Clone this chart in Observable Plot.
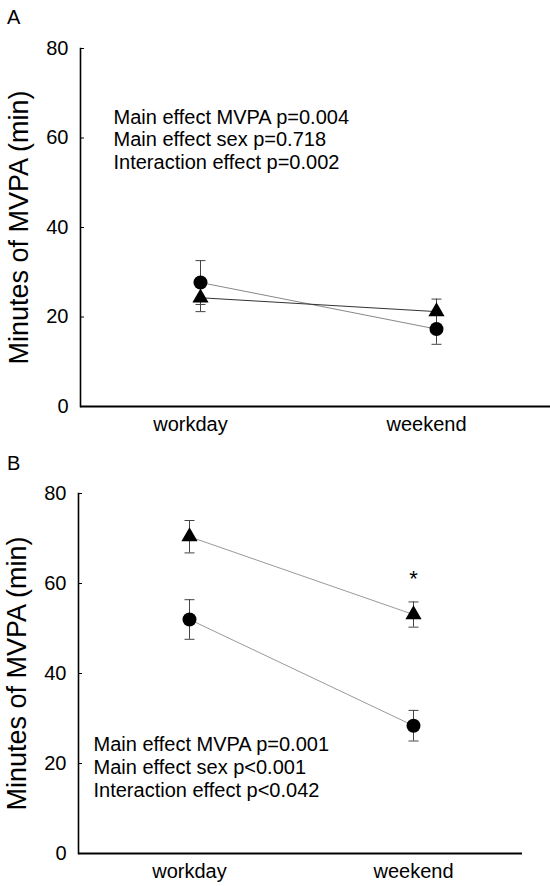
<!DOCTYPE html>
<html>
<head>
<meta charset="utf-8">
<script src="https://cdn.jsdelivr.net/npm/d3@7"></script>
<script src="https://cdn.jsdelivr.net/npm/@observablehq/plot@0.6"></script>
<style>
  html, body { margin: 0; padding: 0; background: #fff; }
  #wrap { position: relative; width: 550px; height: 886px; font-family: "Liberation Sans", Arial, sans-serif; }
  .panel-label { position: absolute; font-size: 20px; color: #000; line-height: 1; }
  svg g[aria-label="y-axis label"] text { font-size: 27px; }
  svg { display: block; }
</style>
</head>
<body>
<div id="wrap">
  <div id="plotA"></div>
  <div id="plotB"></div>
  <div class="panel-label" style="left:7px; top:7px;">A</div>
  <div class="panel-label" style="left:7px; top:453px;">B</div>
</div>
<script>
// ---- data ----
const conditions = ["workday", "weekend"];
const yTicks = [0, 20, 40, 60, 80];
const yLabel = "Minutes of MVPA (min)";

// Panel A (circle series / triangle series): mean and error
const panelA_circleMean = [27.7, 17.3];
const panelA_circleErr = [4.9, 3.4];
const panelA_triangleMean = [24.3, 21.2];
const panelA_triangleErr = [3.1, 2.8];
const statsA = ["Main effect MVPA p=0.004", "Main effect sex p=0.718", "Interaction effect p=0.002"];

// Panel B
const panelB_circleMean = [52.0, 28.4];
const panelB_circleErr = [4.4, 3.4];
const panelB_triangleMean = [70.4, 53.1];
const panelB_triangleErr = [3.6, 2.8];
const statsB = ["Main effect MVPA p=0.001", "Main effect sex p<0.001", "Interaction effect p<0.042"];
const starB = [{condition: "weekend", y: 61, label: "*"}];

// horizontal cap symbol for error bars
const capSymbol = {draw(context) { context.moveTo(-5, 0); context.lineTo(5, 0); }};

function rows(mean, err, symbol) {
  return conditions.map((c, i) => ({condition: c, mean: mean[i], lo: mean[i] - err[i], hi: mean[i] + err[i], symbol}));
}

function panel({circle, triangle, xRange, axisDx, height, marginTop, marginBottom, marginRight, marginLeft,
                stats, statsDx, statsDy, lineHeight, circleLine, triangleLine, extra}) {
  const all = [...circle, ...triangle];
  return Plot.plot({
    width: 550, height, marginLeft, marginRight, marginTop, marginBottom,
    x: {type: "point", domain: conditions, range: xRange, padding: 0},
    y: {domain: [0, 80]},
    style: {fontFamily: "'Liberation Sans', Arial, sans-serif", fontSize: "20px", color: "#000", background: "#fff"},
    marks: [
      Plot.axisY({ticks: yTicks, tickSize: -4, tickPadding: 16, fontSize: 20, label: yLabel,
                  labelAnchor: "center", labelArrow: "none", labelOffset: 72}),
      Plot.axisX({tickSize: 0, tickPadding: 10, fontSize: 20, label: null, dx: axisDx}),
      Plot.frame({anchor: "left", strokeWidth: 1.6, stroke: "#000"}),
      Plot.ruleY([0], {strokeWidth: 2, stroke: "#000"}),
      Plot.line(circle, {x: "condition", y: "mean", stroke: circleLine, strokeWidth: 1}),
      Plot.line(triangle, {x: "condition", y: "mean", stroke: triangleLine, strokeWidth: 1}),
      Plot.ruleX(all, {x: "condition", y1: "lo", y2: "hi", stroke: "#444", strokeWidth: 1}),
      Plot.dot(all, {x: "condition", y: "lo", symbol: capSymbol, fill: "none", stroke: "#444", strokeWidth: 1}),
      Plot.dot(all, {x: "condition", y: "hi", symbol: capSymbol, fill: "none", stroke: "#444", strokeWidth: 1}),
      Plot.dot(circle, {x: "condition", y: "mean", r: 7, symbol: "circle", fill: "#000", stroke: "none"}),
      Plot.dot(triangle, {x: "condition", y: "mean", r: 6, symbol: "triangle", fill: "#000", stroke: "none"}),
      Plot.text([stats.join("\n")], {frameAnchor: "top-left", textAnchor: "start", lineAnchor: "top",
                 dx: statsDx, dy: statsDy, lineHeight, fontSize: 20, fill: "#000"}),
      ...(extra || [])
    ]
  });
}

const plotA = panel({
  circle: rows(panelA_circleMean, panelA_circleErr, "circle"),
  triangle: rows(panelA_triangleMean, panelA_triangleErr, "triangle"),
  xRange: [200, 436], axisDx: -10,
  height: 440, marginTop: 48, marginBottom: 34, marginRight: 0, marginLeft: 80,
  stats: statsA, statsDx: 33, statsDy: 59, lineHeight: 1.13,
  circleLine: "#888", triangleLine: "#333"
});
document.getElementById("plotA").appendChild(plotA);

const plotB = panel({
  circle: rows(panelB_circleMean, panelB_circleErr, "circle"),
  triangle: rows(panelB_triangleMean, panelB_triangleErr, "triangle"),
  xRange: [189, 413], axisDx: 0,
  height: 446, marginTop: 53, marginBottom: 33, marginRight: 28, marginLeft: 78,
  stats: statsB, statsDx: 15, statsDy: 241, lineHeight: 1.15,
  circleLine: "#999", triangleLine: "#999",
  extra: [Plot.text(starB, {x: "condition", y: "y", text: "label", fontSize: 22, fill: "#000"})]
});
document.getElementById("plotB").appendChild(plotB);
</script>
</body>
</html>
